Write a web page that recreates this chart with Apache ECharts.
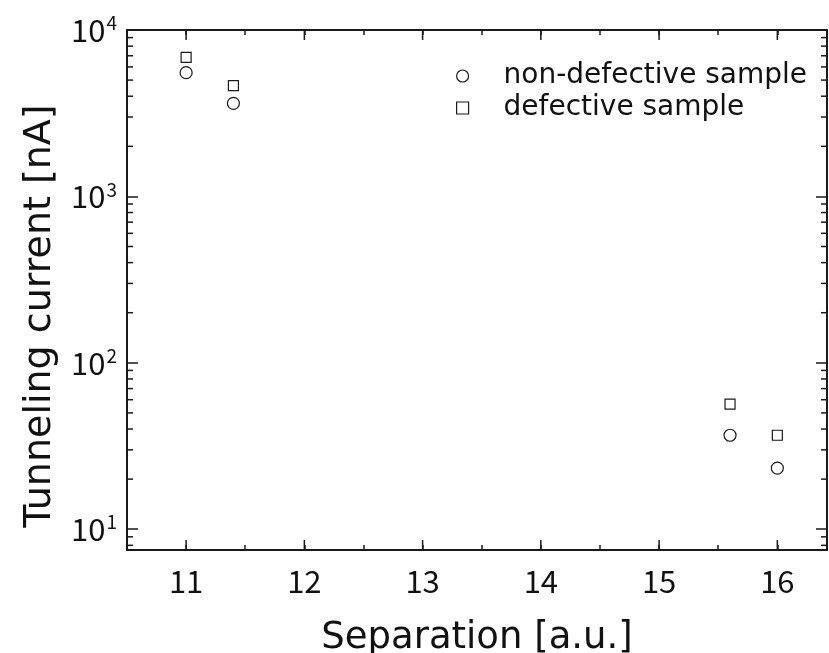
<!DOCTYPE html>
<html>
<head>
<meta charset="utf-8">
<script src="https://cdn.jsdelivr.net/npm/echarts@6/dist/echarts.min.js"></script>
<style>
  html, body { margin: 0; padding: 0; background: #fff; }
  #chart { width: 829px; height: 653px; }
</style>
</head>
<body>
<div id="chart"></div>
<script>
// Tunneling current versus tip separation, two samples
const separation = [11, 11.4, 15.6, 16];
const currentNonDefective = [5540, 3625, 36.7, 23.3];
const currentDefective = [6855, 4627, 56.5, 36.7];

const seriesNames = ['non-defective sample', 'defective sample'];

// axis ranges and tick positions
const X_MIN = 10.5, X_MAX = 16.42;
const Y_MIN = 7.5, Y_MAX = 10000;
const xMajorTicks = [11, 12, 13, 14, 15, 16];
const yMinorTicks = [8, 9, 20, 30, 40, 50, 60, 70, 80, 90,
                     200, 300, 400, 500, 600, 700, 800, 900,
                     2000, 3000, 4000, 5000, 6000, 7000, 8000, 9000];

const NUM_FONT = '"Noto Sans CJK JP", "Noto Sans", sans-serif';
const TEXT_FONT = '"DejaVu Sans", "Noto Sans", sans-serif';
const INK = '#1a1a1a';

const chart = echarts.init(document.getElementById('chart'), null, { renderer: 'canvas' });

function isPow10(v) {
  const e = Math.log10(v);
  return Math.abs(e - Math.round(e)) < 1e-6;
}

const xAxisBase = {
  type: 'value', min: X_MIN, max: X_MAX, interval: 0.5,
  axisLine: { show: true, onZero: false, lineStyle: { color: INK, width: 2 } },
  axisTick: { show: true, inside: true, length: 5, lineStyle: { color: INK, width: 1.5 } },
  splitLine: { show: false }
};
const yAxisBase = {
  type: 'log', logBase: 10, min: Y_MIN, max: Y_MAX,
  axisLine: { show: true, onZero: false, lineStyle: { color: INK, width: 2 } },
  axisTick: { show: true, inside: true, length: 11, lineStyle: { color: INK, width: 1.5 } },
  splitLine: { show: false }
};

const option = {
  animation: false,
  backgroundColor: '#fff',
  grid: { left: 127, right: 2, top: 30, bottom: 103, containLabel: false, outerBoundsMode: 'none' },
  legend: {
    orient: 'vertical',
    left: 451, top: 57,
    itemWidth: 12, itemHeight: 12, itemGap: 4,
    selectedMode: false,
    data: [
      { name: seriesNames[0], icon: 'circle' },
      { name: seriesNames[1], icon: 'rect', itemStyle: { color: '#fff', borderColor: INK, borderWidth: 1.2 } }
    ],
    itemStyle: { color: '#fff', borderColor: INK, borderWidth: 1.2 },
    textStyle: { fontFamily: TEXT_FONT, fontSize: 28, color: '#111', padding: [0, 0, 0, 30] }
  },
  xAxis: [
    Object.assign({}, xAxisBase, {
      position: 'bottom',
      name: 'Separation [a.u.]',
      nameLocation: 'middle', nameGap: 70,
      nameTextStyle: { fontFamily: TEXT_FONT, fontSize: 37, color: '#111' },
      axisLabel: {
        margin: 16, fontFamily: NUM_FONT, fontSize: 31, color: '#111',
        formatter: v => (Math.abs(v - Math.round(v)) < 1e-6 ? String(Math.round(v)) : '')
      }
    }),
    Object.assign({}, xAxisBase, { position: 'top', axisLabel: { show: false } })
  ],
  yAxis: [
    Object.assign({}, yAxisBase, {
      position: 'left',
      name: 'Tunneling current [nA]',
      nameLocation: 'middle', nameGap: 68,
      nameTextStyle: { fontFamily: TEXT_FONT, fontSize: 38, color: '#111', padding: [0, 52, 0, 0] },
      axisLabel: {
        margin: 10, color: '#111',
        formatter: v => (isPow10(v) ? '{b|10}{s|' + Math.round(Math.log10(v)) + '}' : ''),
        rich: {
          b: { fontFamily: NUM_FONT, fontSize: 31, color: '#111' },
          s: { fontFamily: NUM_FONT, fontSize: 19, color: '#111', verticalAlign: 'top', padding: [0, 0, 14, 1] }
        }
      }
    }),
    Object.assign({}, yAxisBase, { position: 'right', axisLabel: { show: false } })
  ],
  series: [
    {
      name: seriesNames[0], type: 'scatter',
      symbol: 'circle', symbolSize: 12,
      itemStyle: { color: '#fff', borderColor: INK, borderWidth: 1.2, opacity: 1 },
      data: separation.map((x, i) => [x, currentNonDefective[i]]),
      z: 5
    },
    {
      name: seriesNames[1], type: 'scatter',
      symbol: 'rect', symbolSize: 10,
      itemStyle: { color: '#fff', borderColor: INK, borderWidth: 1.2, opacity: 1 },
      data: separation.map((x, i) => [x, currentDefective[i]]),
      z: 5
    },
    {
      // log minor ticks on the left and right frame edges
      type: 'custom', silent: true, clip: false, z: 3,
      data: yMinorTicks.map(v => [X_MIN, v]),
      renderItem: (params, api) => {
        const v = api.value(1);
        const pl = api.coord([X_MIN, v]);
        const pr = api.coord([X_MAX, v]);
        const st = { stroke: INK, lineWidth: 1.5 };
        return {
          type: 'group',
          children: [
            { type: 'line', shape: { x1: pl[0], y1: pl[1], x2: pl[0] + 6, y2: pl[1] }, style: st },
            { type: 'line', shape: { x1: pr[0], y1: pr[1], x2: pr[0] - 6, y2: pr[1] }, style: st }
          ]
        };
      }
    },
    {
      // longer ticks at whole separations on the bottom and top frame edges
      type: 'custom', silent: true, clip: false, z: 3,
      data: xMajorTicks.map(v => [v, Y_MIN]),
      renderItem: (params, api) => {
        const v = api.value(0);
        const pb = api.coord([v, Y_MIN]);
        const pt = api.coord([v, Y_MAX]);
        const st = { stroke: INK, lineWidth: 1.5 };
        return {
          type: 'group',
          children: [
            { type: 'line', shape: { x1: pb[0], y1: pb[1], x2: pb[0], y2: pb[1] - 10 }, style: st },
            { type: 'line', shape: { x1: pt[0], y1: pt[1], x2: pt[0], y2: pt[1] + 10 }, style: st }
          ]
        };
      }
    }
  ]
};

chart.setOption(option);
</script>
</body>
</html>
